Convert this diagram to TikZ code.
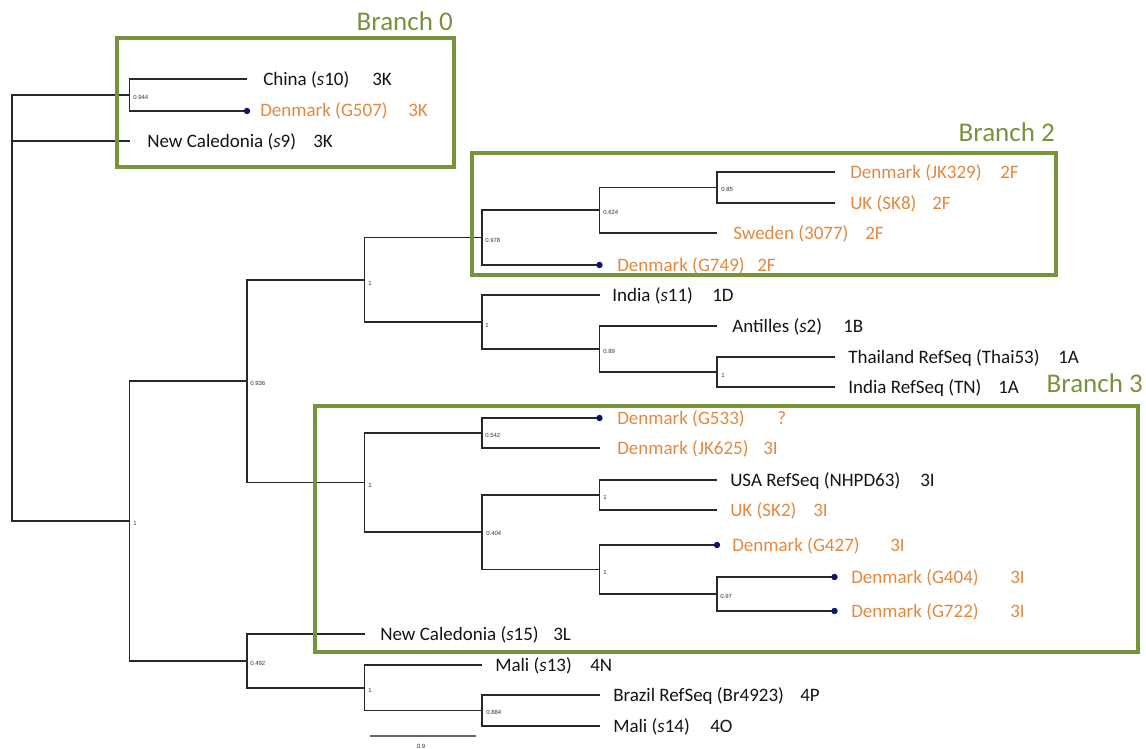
\documentclass[tikz,border=0pt]{standalone}
\usepackage{fontspec}
\setmainfont{Carlito}
\newfontfamily\supfont{Liberation Sans}
\definecolor{olivebox}{RGB}{119,147,60}
\definecolor{orng}{RGB}{226,137,64}
\definecolor{dotblue}{RGB}{14,20,110}
\definecolor{treeline}{RGB}{40,40,40}
\definecolor{txtblack}{RGB}{20,20,20}
\begin{document}
\begin{tikzpicture}[x=0.75pt,y=-0.75pt,
  br/.style={draw=treeline,line width=1.1pt},
  lbl/.style={anchor=base west,inner sep=0pt,font=\fontsize{14.25}{16}\selectfont,text=txtblack},
  dk/.style={lbl,text=orng},
  sup/.style={anchor=west,inner sep=0pt,font=\supfont\fontsize{4.5}{5}\selectfont,text=black!80},
  bx/.style={draw=olivebox,line width=2.6pt},
  brl/.style={anchor=base east,inner sep=0pt,font=\fontsize{20.25}{24}\selectfont,text=olivebox},
  tipdot/.style={fill=dotblue},
  scalebar/.style={draw=black!60,line width=0.9pt}]
\useasboundingbox[fill=white] (0,0) rectangle (1146,749);

% internal nodes
\coordinate (r) at (12,308);
\coordinate (n0944) at (129.5,95);
\coordinate (n1a) at (129.5,521);
\coordinate (n0936) at (247,381);
\coordinate (n1b) at (364.5,280);
\coordinate (n0978) at (482,237.5);
\coordinate (n0624) at (599.5,210);
\coordinate (n085) at (717,187.5);
\coordinate (n1c) at (482,322);
\coordinate (n089) at (599.5,349);
\coordinate (n1d) at (717,372);
\coordinate (n1e) at (364.5,482.5);
\coordinate (n0542) at (482,433);
\coordinate (n0404) at (482,532);
\coordinate (n1f) at (599.5,495);
\coordinate (n1g) at (599.5,569.5);
\coordinate (n097) at (717,594);
\coordinate (n0492) at (247,661);
\coordinate (n1h) at (364.5,688);
\coordinate (n0884) at (482,710.5);

% leaves
\coordinate (L1) at (247,79);
\coordinate (L2) at (247,111);
\coordinate (L3) at (129.5,141);
\coordinate (L4) at (834.5,172);
\coordinate (L5) at (834.5,203);
\coordinate (L6) at (717,233);
\coordinate (L7) at (599.5,265);
\coordinate (L8) at (599.5,295);
\coordinate (L9) at (717,326);
\coordinate (L10) at (834.5,357);
\coordinate (L11) at (834.5,387);
\coordinate (L12) at (599.5,418);
\coordinate (L13) at (599.5,448);
\coordinate (L14) at (717,480);
\coordinate (L15) at (717,510);
\coordinate (L16) at (717,545);
\coordinate (L17) at (834.5,577);
\coordinate (L18) at (834.5,611);
\coordinate (L19) at (364.5,634);
\coordinate (L20) at (482,665);
\coordinate (L21) at (599.5,695);
\coordinate (L22) at (599.5,726);

% branches
\draw[br] (r) |- (n0944);
\draw[br] (r) |- (L3);
\draw[br] (r) |- (n1a);
\draw[br] (n0944) |- (L1);
\draw[br] (n0944) |- (L2);
\draw[br] (n1a) |- (n0936);
\draw[br] (n1a) |- (n0492);
\draw[br] (n0936) |- (n1b);
\draw[br] (n0936) |- (n1e);
\draw[br] (n1b) |- (n0978);
\draw[br] (n1b) |- (n1c);
\draw[br] (n0978) |- (n0624);
\draw[br] (n0978) |- (L7);
\draw[br] (n0624) |- (n085);
\draw[br] (n0624) |- (L6);
\draw[br] (n085) |- (L4);
\draw[br] (n085) |- (L5);
\draw[br] (n1c) |- (L8);
\draw[br] (n1c) |- (n089);
\draw[br] (n089) |- (L9);
\draw[br] (n089) |- (n1d);
\draw[br] (n1d) |- (L10);
\draw[br] (n1d) |- (L11);
\draw[br] (n1e) |- (n0542);
\draw[br] (n1e) |- (n0404);
\draw[br] (n0542) |- (L12);
\draw[br] (n0542) |- (L13);
\draw[br] (n0404) |- (n1f);
\draw[br] (n0404) |- (n1g);
\draw[br] (n1f) |- (L14);
\draw[br] (n1f) |- (L15);
\draw[br] (n1g) |- (L16);
\draw[br] (n1g) |- (n097);
\draw[br] (n097) |- (L17);
\draw[br] (n097) |- (L18);
\draw[br] (n0492) |- (L19);
\draw[br] (n0492) |- (n1h);
\draw[br] (n1h) |- (L20);
\draw[br] (n1h) |- (n0884);
\draw[br] (n0884) |- (L21);
\draw[br] (n0884) |- (L22);

% tip dots
\foreach \d in {L2,L7,L12,L16,L17,L18} \fill[tipdot] (\d) circle (2.4pt);

% support values
\node[sup] (s0944) at (133,97) {0.944};
\node[sup] (s1a) at (133,523) {1};
\node[sup] (s0936) at (250,383) {0.936};
\node[sup] (s1b) at (368,283) {1};
\node[sup] (s0978) at (485,240) {0.978};
\node[sup] (s0624) at (603,212) {0.624};
\node[sup] (s085) at (721,189) {0.85};
\node[sup] (s1c) at (485,325) {1};
\node[sup] (s089) at (603,351) {0.89};
\node[sup] (s1d) at (721,375) {1};
\node[sup] (s1e) at (368,485) {1};
\node[sup] (s0542) at (485,435) {0.542};
\node[sup] (s0404) at (486,533) {0.404};
\node[sup] (s1f) at (603,497) {1};
\node[sup] (s1g) at (603,572) {1};
\node[sup] (s097) at (720,596) {0.97};
\node[sup] (s0492) at (250,663) {0.492};
\node[sup] (s1h) at (368,690) {1};
\node[sup] (s0884) at (486,712) {0.884};

% leaf labels
\node[lbl] (t1) at (263,85) {China (\textit{s}10)};
\node[lbl] (g1) at (372,85) {3K};
\node[dk] (t2) at (260,117) {Denmark (G507)};
\node[dk] (g2) at (408,117) {3K};
\node[lbl] (t3) at (147,147) {New Caledonia (\textit{s}9)};
\node[lbl] (g3) at (313,147) {3K};
\node[dk] (t4) at (850,178) {Denmark (JK329)};
\node[dk] (g4) at (1000,178) {2F};
\node[dk] (t5) at (850,209) {UK (SK8)};
\node[dk] (g5) at (932,209) {2F};
\node[dk] (t6) at (733,239) {Sweden (3077)};
\node[dk] (g6) at (865,239) {2F};
\node[dk] (t7) at (617,271) {Denmark (G749)};
\node[dk] (g7) at (757,271) {2F};
\node[lbl] (t8) at (612,301) {India (\textit{s}11)};
\node[lbl] (g8) at (712,301) {1D};
\node[lbl] (t9) at (732,332) {Antilles (\textit{s}2)};
\node[lbl] (g9) at (843,332) {1B};
\node[lbl] (t10) at (848,363) {Thailand RefSeq (Thai53)};
\node[lbl] (g10) at (1058,363) {1A};
\node[lbl] (t11) at (848,393) {India RefSeq (TN)};
\node[lbl] (g11) at (998,393) {1A};
\node[dk] (t12) at (617,424) {Denmark (G533)};
\node[dk] (g12) at (777,424) {?};
\node[dk] (t13) at (617,454) {Denmark (JK625)};
\node[dk] (g13) at (763,454) {3I};
\node[lbl] (t14) at (730,486) {USA RefSeq (NHPD63)};
\node[lbl] (g14) at (920,486) {3I};
\node[dk] (t15) at (730,516) {UK (SK2)};
\node[dk] (g15) at (813,516) {3I};
\node[dk] (t16) at (732,551) {Denmark (G427)};
\node[dk] (g16) at (890,551) {3I};
\node[dk] (t17) at (851,583) {Denmark (G404)};
\node[dk] (g17) at (1010,583) {3I};
\node[dk] (t18) at (851,617) {Denmark (G722)};
\node[dk] (g18) at (1010,617) {3I};
\node[lbl] (t19) at (380,640) {New Caledonia (\textit{s}15)};
\node[lbl] (g19) at (553,640) {3L};
\node[lbl] (t20) at (495,671) {Mali (\textit{s}13)};
\node[lbl] (g20) at (590,671) {4N};
\node[lbl] (t21) at (613,701) {Brazil RefSeq (Br4923)};
\node[lbl] (g21) at (800,701) {4P};
\node[lbl] (t22) at (613,732) {Mali (\textit{s}14)};
\node[lbl] (g22) at (710,732) {4O};

% scale bar
\coordinate (sb1) at (370,736);
\coordinate (sb2) at (476,736);
\draw[scalebar] (sb1) -- (sb2);
\node[sup,anchor=center] (sbl) at (421,746) {0.9};

% branch boxes
\draw[bx] (117,38) rectangle (454,167);
\draw[bx] (472,153) rectangle (1056,275);
\draw[bx] (315,406) rectangle (1138,652);
\node[brl] (b0) at (453,31) {Branch 0};
\node[brl] (b2) at (1055,142) {Branch 2};
\node[brl] (b3) at (1143,392) {Branch 3};
\end{tikzpicture}
\end{document}
